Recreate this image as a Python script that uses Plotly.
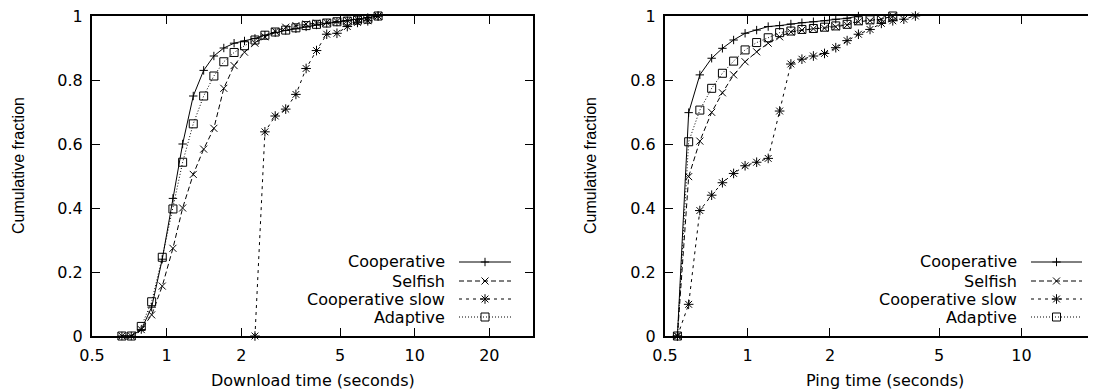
import math
import plotly.graph_objects as go

# ---------------- data ----------------
download_x = [0.66, 0.72, 0.79, 0.87, 0.96, 1.06, 1.16, 1.28, 1.41, 1.55, 1.70, 1.87, 2.06,
              2.27, 2.49, 2.74, 3.02, 3.32, 3.65, 4.02, 4.42, 4.86, 5.35, 5.88, 6.47, 7.12]
dl_cooperative = [0, 0, 0.02, 0.09, 0.24, 0.43, 0.60, 0.75, 0.83, 0.875, 0.90, 0.915, 0.922,
                  0.93, 0.94, 0.948, 0.955, 0.96, 0.966, 0.972, 0.977, 0.981, 0.985, 0.99, 0.995, 1.0]
dl_selfish = [0, 0, 0.02, 0.066, 0.156, 0.274, 0.40, 0.505, 0.584, 0.649, 0.774, 0.845, 0.887,
              0.915, 0.935, 0.952, 0.965, 0.97, 0.975, 0.978, 0.98, 0.983, 0.986, 0.99, 0.995, 1.0]
dl_slow_x = [2.27, 2.49, 2.74, 3.02, 3.32, 3.65, 4.02, 4.42, 4.86, 5.35, 5.88, 6.47, 7.12]
dl_slow = [0, 0.638, 0.6875, 0.709, 0.755, 0.836, 0.892, 0.943, 0.946, 0.967, 0.98, 0.985, 1.0]
dl_adaptive = [0, 0, 0.03, 0.107, 0.246, 0.397, 0.543, 0.663, 0.75, 0.8125, 0.857, 0.886, 0.907,
               0.925, 0.94, 0.95, 0.956, 0.963, 0.97, 0.974, 0.978, 0.982, 0.984, 0.987, 0.99, 1.0]

ping_x = [0.555, 0.61, 0.67, 0.74, 0.81, 0.89, 0.98, 1.08, 1.19, 1.31, 1.44, 1.58, 1.74,
          1.91, 2.10, 2.31, 2.54, 2.80, 3.08, 3.39, 3.72, 4.10]
pg_cooperative = [0, 0.698, 0.816, 0.868, 0.899, 0.925, 0.946, 0.956, 0.967, 0.97, 0.975,
                  0.979, 0.982, 0.985, 0.99, 0.993, 1.0]
pg_selfish = [0, 0.498, 0.609, 0.699, 0.760, 0.816, 0.857, 0.888, 0.915, 0.935, 0.95, 0.956,
              0.96, 0.962, 0.966, 0.972, 0.982, 0.985, 0.99, 1.0]
pg_slow = [0, 0.099, 0.392, 0.44, 0.479, 0.508, 0.532, 0.543, 0.555, 0.703, 0.85, 0.865, 0.875,
           0.883, 0.901, 0.923, 0.943, 0.958, 0.977, 0.985, 0.99, 1.0]
pg_adaptive = [0, 0.607, 0.706, 0.774, 0.821, 0.859, 0.894, 0.917, 0.932, 0.948, 0.953, 0.958,
               0.961, 0.965, 0.969, 0.974, 0.985, 0.988, 0.99, 1.0]

series_names = ["Cooperative", "Selfish", "Cooperative slow", "Adaptive"]
x_tickvals = [0.5, 1, 2, 5, 10, 20]
x_ticktext = ["0.5", "1", "2", "5", "10", "20"]
y_tickvals = [0, 0.2, 0.4, 0.6, 0.8, 1]
y_ticktext = ["0", "0.2", "0.4", "0.6", "0.8", "1"]

# ---------------- geometry / styles ----------------
SCREEN_W, SCREEN_H = 1096, 392
OFF = 8                       # page body margin
W, H = SCREEN_W - OFF, SCREEN_H - OFF
FONT = "DejaVu Sans"
styles = {
    "Cooperative": dict(dash="solid", symbol="cross-thin-open", size=6),
    "Selfish": dict(dash="5px,3px", symbol="x-thin-open", size=7),
    "Cooperative slow": dict(dash="3px,4px", symbol="asterisk-open", size=8),
    "Adaptive": dict(dash="1px,2px", symbol="square-open", size=8),
}

def px_x(p):          # screen pixel -> paper fraction
    return (p - OFF) / W

def px_y(p):
    return (H - (p - OFF)) / H

fig = go.Figure()

def add_series(x, y, name, xa, ya):
    st = styles[name]
    fig.add_trace(go.Scatter(
        x=x, y=y, mode="lines+markers", name=name, showlegend=False,
        xaxis=xa, yaxis=ya, cliponaxis=False,
        line=dict(color="black", width=1, dash=st["dash"]),
        marker=dict(symbol=st["symbol"], size=st["size"], color="black",
                    line=dict(color="black", width=1)),
    ))

add_series(download_x[:len(dl_cooperative)], dl_cooperative, "Cooperative", "x", "y")
add_series(download_x[:len(dl_selfish)], dl_selfish, "Selfish", "x", "y")
add_series(dl_slow_x, dl_slow, "Cooperative slow", "x", "y")
add_series(download_x[:len(dl_adaptive)], dl_adaptive, "Adaptive", "x", "y")

add_series(ping_x[:len(pg_cooperative)], pg_cooperative, "Cooperative", "x2", "y2")
add_series(ping_x[:len(pg_selfish)], pg_selfish, "Selfish", "x2", "y2")
add_series(ping_x[:len(pg_slow)], pg_slow, "Cooperative slow", "x2", "y2")
add_series(ping_x[:len(pg_adaptive)], pg_adaptive, "Adaptive", "x2", "y2")

# ---------------- manual legends (text left, key right, like gnuplot) ----------------
row_y = [262, 281, 299, 317]
legends = [dict(text_right=447, line_l=459, line_r=511),
           dict(text_right=1019, line_l=1031, line_r=1082)]
annotations = []
for lg in legends:
    for name, ry in zip(series_names, row_y):
        st = styles[name]
        annotations.append(dict(
            text=name, x=px_x(lg["text_right"]), y=px_y(ry), xref="paper", yref="paper",
            xanchor="right", yanchor="middle", showarrow=False,
            font=dict(family=FONT, size=16, color="black")))
        fig.add_trace(go.Scatter(
            x=[px_x(lg["line_l"]), px_x(lg["line_r"])], y=[px_y(ry), px_y(ry)],
            mode="lines", showlegend=False, xaxis="x3", yaxis="y3", hoverinfo="skip",
            line=dict(color="black", width=1, dash=st["dash"])))
        fig.add_trace(go.Scatter(
            x=[px_x((lg["line_l"] + lg["line_r"]) / 2)], y=[px_y(ry)], mode="markers",
            showlegend=False, xaxis="x3", yaxis="y3", hoverinfo="skip",
            marker=dict(symbol=st["symbol"], size=st["size"], color="black",
                        line=dict(color="black", width=1))))

# axis titles
annotations += [
    dict(text="Download time (seconds)", x=px_x(312.5), y=px_y(380), xref="paper", yref="paper",
         xanchor="center", yanchor="middle", showarrow=False,
         font=dict(family=FONT, size=16, color="black")),
    dict(text="Ping time (seconds)", x=px_x(885), y=px_y(380), xref="paper", yref="paper",
         xanchor="center", yanchor="middle", showarrow=False,
         font=dict(family=FONT, size=16, color="black")),
    dict(text="Cumulative fraction", x=px_x(18), y=px_y(166), xref="paper", yref="paper",
         xanchor="center", yanchor="middle", showarrow=False, textangle=-90,
         font=dict(family="Liberation Sans", size=16, color="black")),
    dict(text="Cumulative fraction", x=px_x(590), y=px_y(166), xref="paper", yref="paper",
         xanchor="center", yanchor="middle", showarrow=False, textangle=-90,
         font=dict(family="Liberation Sans", size=16, color="black")),
]

tickfont = dict(family=FONT, size=16, color="black")
common_x = dict(type="log", tickvals=x_tickvals, ticktext=x_ticktext, ticks="inside",
                ticklen=8, tickwidth=1, tickcolor="black", showline=True, linewidth=2,
                linecolor="black", showgrid=False, zeroline=False, tickfont=tickfont,
                ticklabelstandoff=4, mirror="ticks", automargin=False,
                ticklabeloverflow="allow")
common_y = dict(range=[0, 1], tickvals=y_tickvals, ticktext=y_ticktext, ticks="inside",
                ticklen=8, tickwidth=1, tickcolor="black", showline=True, linewidth=2,
                linecolor="black", showgrid=False, zeroline=False, tickfont=tickfont,
                ticklabelstandoff=4, automargin=False, ticklabeloverflow="allow")

ydom = [px_y(336), px_y(16)]
fig.update_layout(
    template="none",
    width=W, height=H, autosize=False,
    margin=dict(l=0, r=0, t=0, b=0, pad=0),
    paper_bgcolor="white", plot_bgcolor="rgba(0,0,0,0)",
    showlegend=False,
    xaxis=dict(domain=[px_x(92), px_x(533)],
               range=[math.log10(0.5), math.log10(30)], anchor="y", **common_x),
    yaxis=dict(domain=ydom, anchor="x", mirror="ticks", **common_y),
    xaxis2=dict(domain=[px_x(665), 1.0],
                range=[math.log10(0.5), math.log10(18.7)], anchor="y2", **common_x),
    yaxis2=dict(domain=ydom, anchor="x2", mirror=False, **common_y),
    xaxis3=dict(domain=[0, 1], range=[0, 1], anchor="y3", visible=False, fixedrange=True,
                automargin=False),
    yaxis3=dict(domain=[0, 1], range=[0, 1], anchor="x3", visible=False, fixedrange=True,
                automargin=False),
    annotations=annotations,
)

fig.write_html("out.html")
